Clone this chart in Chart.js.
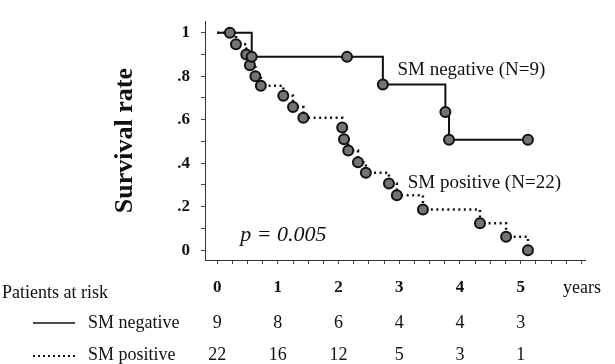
<!DOCTYPE html>
<html>
<head>
<meta charset="utf-8">
<script src="https://cdn.jsdelivr.net/npm/chart.js@4/dist/chart.umd.min.js"></script>
<style>
  html, body { margin: 0; padding: 0; background: #fff; }
  canvas { display: block; }
</style>
</head>
<body>
<canvas id="kmChart" width="615" height="364"></canvas>
<script>
// --- data ---
// SM negative (N=9): time in years, survival after each step (first point = start, no marker)
const negTimes = [0, 0.21, 0.57, 2.14, 2.73, 3.76, 3.82, 5.12];
const negSurv  = [1, 1, 0.889, 0.889, 0.762, 0.635, 0.508, 0.508];

// SM positive (N=22)
const posTimes = [0, 0.31, 0.48, 0.54, 0.63, 0.72, 1.09, 1.25, 1.42, 2.06, 2.09, 2.16, 2.32, 2.45, 2.83, 2.96, 3.39, 4.33, 4.76, 5.12];
const posSurv  = [1, 0.947, 0.90, 0.85, 0.80, 0.756, 0.71, 0.658, 0.609, 0.564, 0.51, 0.458, 0.404, 0.356, 0.307, 0.253, 0.187, 0.124, 0.062, 0];

// axes
const xTickVals   = [0, 1, 2, 3, 4, 5];
const yTickVals   = [0, 0.2, 0.4, 0.6, 0.8, 1];
const yTickLabels = ['0', '.2', '.4', '.6', '.8', '1'];

// patients at risk table
const riskYears  = [0, 1, 2, 3, 4, 5];
const riskNeg    = [9, 8, 6, 4, 4, 3];
const riskPos    = [22, 16, 12, 5, 3, 1];

const SERIF = '"Liberation Serif", "DejaVu Serif", serif';

const toPoints = (xs, ys) => xs.map((x, i) => ({ x, y: ys[i] }));

// тексты внутри графика и таблица "at risk"
const annotations = {
    id: 'annotations',
    afterDraw(chart) {
        const { ctx, scales: { x, y } } = chart;
        ctx.save();
        ctx.fillStyle = '#111';
        ctx.textBaseline = 'middle';
        ctx.textAlign = 'left';

        ctx.font = '19px ' + SERIF;
        ctx.fillText('SM negative (N=9)', x.getPixelForValue(2.97), y.getPixelForValue(0.83));
        ctx.fillText('SM positive (N=22)', x.getPixelForValue(3.14), y.getPixelForValue(0.31));

        ctx.font = 'italic 22px ' + SERIF;
        ctx.fillText('p = 0.005', x.getPixelForValue(0.38), y.getPixelForValue(0.068));

        // "years" next to the tick labels
        ctx.font = '18px ' + SERIF;
        ctx.fillText('years', 563, 288);

        // table
        ctx.fillText('Patients at risk', 2, 293);
        ctx.fillText('SM negative', 88, 323);
        ctx.fillText('SM positive', 88, 355);

        ctx.strokeStyle = '#111';
        ctx.lineWidth = 1.5;
        ctx.beginPath();
        ctx.moveTo(33, 323);
        ctx.lineTo(75, 323);
        ctx.stroke();

        ctx.lineWidth = 2;
        ctx.setLineDash([2, 3]);
        ctx.beginPath();
        ctx.moveTo(33, 356);
        ctx.lineTo(75, 356);
        ctx.stroke();
        ctx.setLineDash([]);

        ctx.textAlign = 'center';
        riskYears.forEach((yr, i) => {
            const px = x.getPixelForValue(yr);
            ctx.fillText(String(riskNeg[i]), px, 323);
            ctx.fillText(String(riskPos[i]), px, 355);
        });
        ctx.restore();
    }
};

const pointStyle = {
    pointRadius: c => c.dataIndex === 0 ? 0 : 5,
    pointBackgroundColor: '#747474',
    pointBorderColor: '#111',
    pointBorderWidth: 2,
    pointHoverRadius: 5
};

new Chart(document.getElementById('kmChart'), {
    type: 'scatter',
    data: {
        datasets: [
            {
                label: 'SM negative',
                data: toPoints(negTimes, negSurv),
                showLine: true,
                stepped: true,
                borderColor: '#111',
                borderWidth: 2,
                ...pointStyle
            },
            {
                label: 'SM positive',
                data: toPoints(posTimes, posSurv),
                showLine: true,
                stepped: true,
                borderColor: '#111',
                borderWidth: 2.5,
                borderDash: [2, 3.5],
                ...pointStyle
            }
        ]
    },
    options: {
        responsive: false,
        devicePixelRatio: 1,
        animation: false,
        clip: false,
        layout: { padding: { top: 13, right: 30, left: 0, bottom: 0 } },
        plugins: {
            legend: { display: false },
            tooltip: { enabled: false }
        },
        scales: {
            x: {
                type: 'linear',
                min: -0.2,
                max: 6.06,
                afterFit: s => { s.height = 104; },
                afterBuildTicks: s => {
                    s.ticks = Array.from({ length: 25 }, (_, i) => ({ value: i * 0.25 }));
                },
                grid: { drawOnChartArea: false, tickLength: 4, color: '#444' },
                border: { color: '#333', width: 1 },
                ticks: {
                    autoSkip: false,
                    maxRotation: 0,
                    padding: 13,
                    color: '#111',
                    font: { family: SERIF, size: 17, weight: 'bold' },
                    callback: v => xTickVals.includes(v) ? String(v) : ''
                }
            },
            y: {
                min: -0.045,
                max: 1.053,
                afterFit: s => { s.width = 205; },
                afterBuildTicks: s => {
                    s.ticks = Array.from({ length: 11 }, (_, i) => ({ value: i / 10 }));
                },
                grid: { drawOnChartArea: false, tickLength: 4, color: '#444' },
                border: { color: '#333', width: 1 },
                ticks: {
                    autoSkip: false,
                    padding: 11,
                    color: '#111',
                    font: { family: SERIF, size: 17, weight: 'bold' },
                    callback: v => {
                        const i = yTickVals.findIndex(t => Math.abs(t - v) < 1e-6);
                        return i >= 0 ? yTickLabels[i] : '';
                    }
                },
                title: {
                    display: true,
                    text: 'Survival rate',
                    color: '#111',
                    font: { family: SERIF, size: 26, weight: 'bold' },
                    padding: { top: 110, bottom: 0 }
                }
            }
        }
    },
    plugins: [annotations]
});
</script>
</body>
</html>
